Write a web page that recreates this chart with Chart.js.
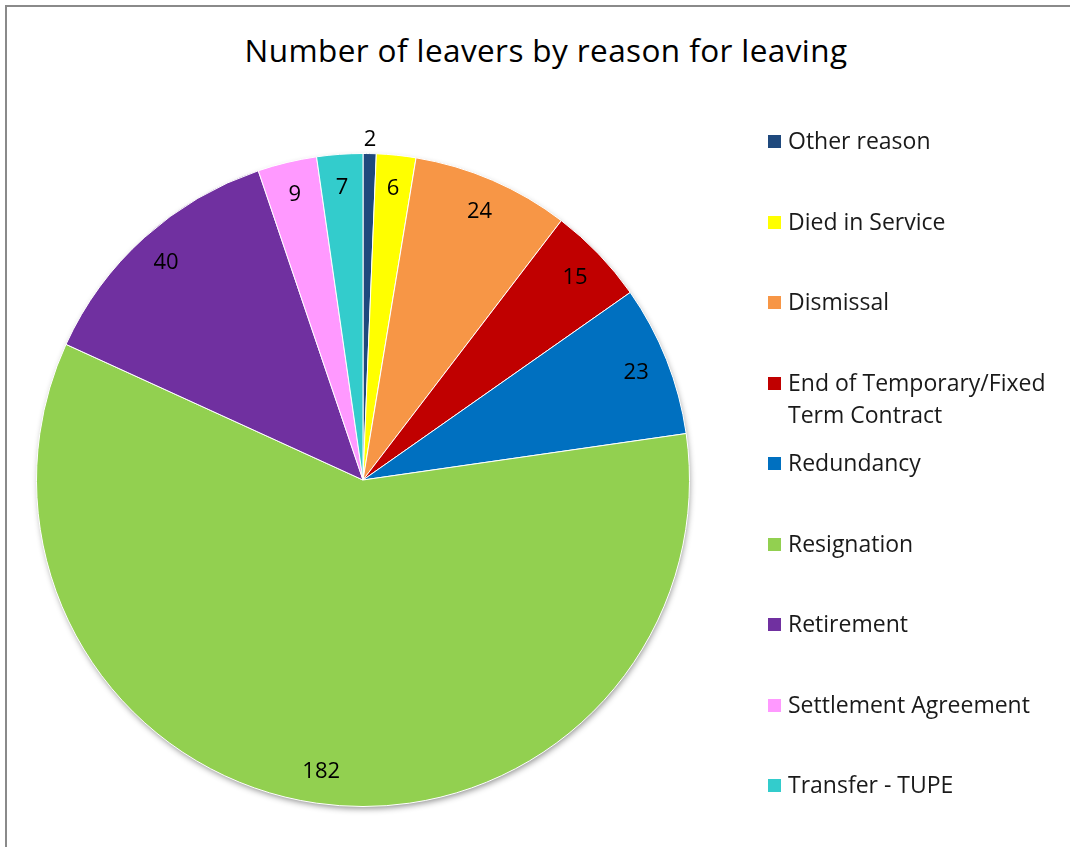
<!DOCTYPE html>
<html>
<head>
<meta charset="utf-8">
<script src="https://cdn.jsdelivr.net/npm/chart.js@4/dist/chart.umd.min.js"></script>
<style>
  html, body { margin: 0; padding: 0; background: #fff; }
  body { width: 1070px; height: 847px; position: relative; overflow: hidden; font-family: 'Open Sans', sans-serif; }
  .frame { position: absolute; left: 5px; top: 5px; width: 1200px; height: 1000px; border-left: 2px solid #8a8a8a; border-top: 2px solid #8a8a8a; }
  .title { position: absolute; left: 0; width: 1092px; top: 28px; text-align: center; font-size: 31.5px; color: #000; letter-spacing: 0.4px; }
  #chart { position: absolute; left: 0; top: 0; }
  .legend { position: absolute; left: 768px; top: 0; }
  .legend-item { position: absolute; left: 0; white-space: nowrap; font-size: 23px; color: #1a1a1a; line-height: 32px; }
  .legend-item .sw { position: absolute; left: 0; top: 10px; width: 13px; height: 13px; }
  .legend-item .tx { position: absolute; left: 20px; top: -1px; }
</style>
</head>
<body>
<div class="frame"></div>
<div class="title">Number of leavers by reason for leaving</div>
<canvas id="chart" width="1070" height="847"></canvas>
<div class="legend" id="legend"></div>
<script>
// Leavers by reason (clockwise from 12 o'clock)
const reasons = [
  'Other reason',
  'Died in Service',
  'Dismissal',
  'End of Temporary/Fixed Term Contract',
  'Redundancy',
  'Resignation',
  'Retirement',
  'Settlement Agreement',
  'Transfer - TUPE',
];
const leavers = [2, 6, 24, 15, 23, 182, 40, 9, 7];
const sliceColors = ['#1F497D', '#FFFF00', '#F79646', '#C00000', '#0070C0', '#92D050', '#7030A0', '#FF99FF', '#33CCCC'];

// legend lines (one entry wraps to two lines like the original)
const legendLines = [
  ['Other reason'],
  ['Died in Service'],
  ['Dismissal'],
  ['End of Temporary/Fixed', 'Term Contract'],
  ['Redundancy'],
  ['Resignation'],
  ['Retirement'],
  ['Settlement Agreement'],
  ['Transfer - TUPE'],
];

const legendEl = document.getElementById('legend');
legendLines.forEach((lines, i) => {
  const item = document.createElement('div');
  item.className = 'legend-item';
  item.style.top = (125 + i * 80.5) + 'px';
  item.innerHTML = `<span class="sw" style="background:${sliceColors[i]}"></span><span class="tx">${lines.join('<br>')}</span>`;
  legendEl.appendChild(item);
});

// soft shadow under the pie
const pieShadow = {
  id: 'pieShadow',
  beforeDatasetsDraw(chart) {
    const arc = chart.getDatasetMeta(0).data[0];
    if (!arc) return;
    const ctx = chart.ctx;
    ctx.save();
    ctx.shadowColor = 'rgba(0,0,0,0.45)';
    ctx.shadowBlur = 6;
    ctx.shadowOffsetX = 1;
    ctx.shadowOffsetY = 3;
    ctx.fillStyle = '#fff';
    ctx.beginPath();
    ctx.arc(arc.x, arc.y, arc.outerRadius - 1, 0, Math.PI * 2);
    ctx.fill();
    ctx.restore();
  }
};

// value labels inside the slices, small ones outside
const sliceLabels = {
  id: 'sliceLabels',
  afterDatasetsDraw(chart) {
    const ctx = chart.ctx;
    const meta = chart.getDatasetMeta(0);
    ctx.save();
    ctx.font = '22px "Open Sans"';
    ctx.fillStyle = '#000';
    ctx.textAlign = 'center';
    ctx.textBaseline = 'middle';
    meta.data.forEach((arc, i) => {
      const mid = (arc.startAngle + arc.endAngle) / 2;
      const r = leavers[i] < 4 ? arc.outerRadius + 15 : arc.outerRadius * 0.9;
      ctx.fillText(String(leavers[i]), arc.x + Math.cos(mid) * r, arc.y + Math.sin(mid) * r + 1);
    });
    ctx.restore();
  }
};

new Chart(document.getElementById('chart'), {
  type: 'pie',
  data: {
    labels: reasons,
    datasets: [{
      data: leavers,
      backgroundColor: sliceColors,
      borderColor: '#ffffff',
      borderWidth: 1,
    }]
  },
  options: {
    responsive: false,
    animation: false,
    layout: { padding: { left: 36, right: 380, top: 153, bottom: 40 } },
    plugins: {
      legend: { display: false },
      title: { display: false },
      tooltip: { enabled: false },
    }
  },
  plugins: [pieShadow, sliceLabels]
});
</script>
</body>
</html>
